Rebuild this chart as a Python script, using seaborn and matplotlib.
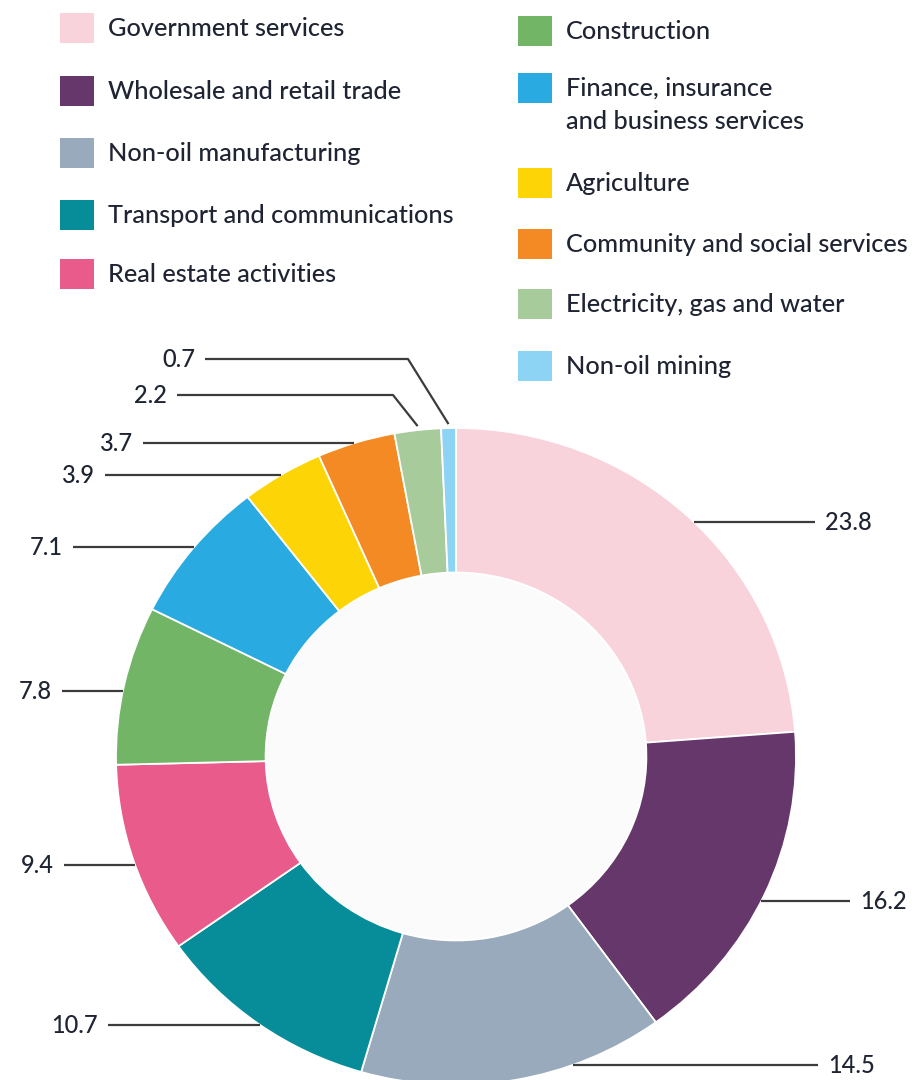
import numpy as np
import matplotlib.pyplot as plt
import seaborn as sns
from matplotlib.patches import Rectangle, Circle

# data, clockwise from 12 o'clock
sectors = ['Government services', 'Wholesale and retail trade', 'Non-oil manufacturing',
           'Transport and communications', 'Real estate activities', 'Construction',
           'Finance, insurance\nand business services', 'Agriculture',
           'Community and social services', 'Electricity, gas and water', 'Non-oil mining']
shares = [23.8, 16.2, 14.5, 10.7, 9.4, 7.8, 7.1, 3.9, 3.7, 2.2, 0.7]
colors = ['#f9d3dc', '#65376b', '#98aabb', '#068d99', '#e85b8a', '#72b567',
          '#29aae1', '#fdd406', '#f48a24', '#a7cb9a', '#8dd3f3']

sns.set_theme(style='white')
plt.rcParams['font.family'] = ['Lato', 'DejaVu Sans']
txt_color = '#1f2433'
line_color = '#3c3c3c'

W, H = 921, 1080
fig = plt.figure(figsize=(W / 100, H / 100), dpi=100)

# donut geometry in pixels (picture is slightly squashed vertically)
cx, cy, rx, ry = 456, 756.5, 340, 328.5
ax = fig.add_axes([(cx - rx) / W, (H - cy - ry) / H, 2 * rx / W, 2 * ry / H])
ax.pie(shares, colors=colors, startangle=90, counterclock=False, radius=1,
       wedgeprops=dict(width=0.44, edgecolor='white', linewidth=1.3))
ax.add_patch(Circle((0, 0), 0.56, facecolor='#fbfbfb', edgecolor='white', lw=1.5, zorder=0))
ax.set_aspect('auto')
ax.set_xlim(-1, 1)
ax.set_ylim(-1, 1)
ax.axis('off')

# overlay in pixel coordinates for legend and leader lines
ov = fig.add_axes([0, 0, 1, 1], zorder=5)
ov.set_xlim(0, W)
ov.set_ylim(H, 0)
ov.axis('off')

# legend
leg_x = [60] * 5 + [518] * 6
leg_y = [28, 91, 153, 215, 274, 31, 88, 183, 244, 304, 366]
for name, col, x, y in zip(sectors, colors, leg_x, leg_y):
    ov.add_patch(Rectangle((x, y - 15), 34, 30, facecolor=col, edgecolor='none'))
    for k, part in enumerate(name.split('\n')):
        ov.text(x + 48, y + 8 + 33 * k, part, fontsize=18.2, color=txt_color,
                ha='left', va='baseline', fontweight='medium')

# leader lines and value labels
label_y = [522, 901, 1065, 1025, 865, 691, 547, 475, 443, 395, 359]
line_x = [815, 850, 818, 108, 64, 62, 73, 105, 143, 177, 205]
elbow_x = {9: 393, 10: 408}

cum = np.cumsum([0] + shares[:-1])
total = sum(shares)
for i, v in enumerate(shares):
    mid = np.deg2rad(90 - (cum[i] + v / 2) / total * 360)
    y = label_y[i]
    right = np.cos(mid) > 0
    if i in elbow_x:
        px = cx + rx * np.cos(mid)
        py = cy - ry * np.sin(mid) - 4
        xs = [line_x[i], elbow_x[i], px]
        ys = [y, y, py]
    else:
        t = np.clip((y - cy) / ry, -1, 1)
        ex = cx + (1 if right else -1) * rx * np.sqrt(1 - t ** 2)
        xs = [line_x[i], ex]
        ys = [y, y]
    ov.plot(xs, ys, color=line_color, lw=1.6, solid_capstyle='butt')
    if right:
        ov.text(line_x[i] + 10, y + 8, f'{v:.1f}', fontsize=17, color=txt_color,
                ha='left', va='baseline', fontweight='medium')
    else:
        ov.text(line_x[i] - 10, y + 8, f'{v:.1f}', fontsize=17, color=txt_color,
                ha='right', va='baseline', fontweight='medium')

fig.savefig('out.png', dpi=100, facecolor='white')
